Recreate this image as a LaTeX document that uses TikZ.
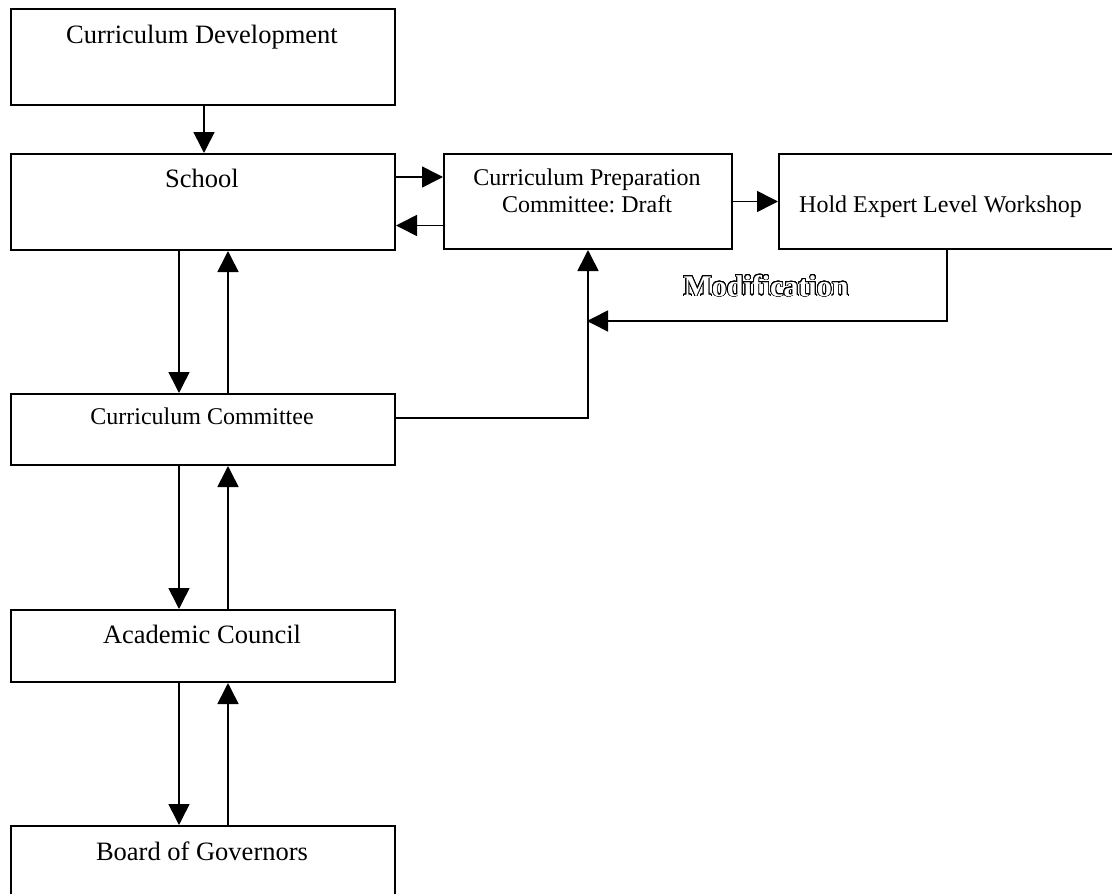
\documentclass[tikz,border=0pt]{standalone}
\usepackage{fontspec}
\setmainfont{Liberation Serif}
\usepackage{contour}
\contourlength{0.8pt}
\contournumber{32}
\usetikzlibrary{arrows.meta}
\frenchspacing
\tikzset{
  box/.style={draw, line width=2pt, rectangle, inner sep=0pt, anchor=north west},
  bigtxt/.style={font=\fontsize{26.5}{32}\selectfont, inner sep=0pt, anchor=base},
  smalltxt/.style={font=\fontsize{24}{29}\selectfont, inner sep=0pt, anchor=base},
  arr/.style={line width=1.6pt, -{Triangle[length=21pt,width=21pt]}},
}
\begin{document}
\begin{tikzpicture}[x=1pt, y=-1pt]
\useasboundingbox (0,0) rectangle (1112,894);
\clip (0,0) rectangle (1112,894);
% boxes
\node[box, minimum width=384pt, minimum height=96pt] (cd) at (10,8) {};
\node[box, minimum width=384pt, minimum height=96pt] (school) at (10,153) {};
\node[box, minimum width=288pt, minimum height=95pt] (cpc) at (443,153) {};
\node[box, minimum width=342pt, minimum height=95pt] (hew) at (778,153) {};
\node[box, minimum width=384pt, minimum height=71pt] (cc) at (10,393) {};
\node[box, minimum width=384pt, minimum height=72pt] (ac) at (10,609) {};
\node[box, minimum width=384pt, minimum height=120pt] (bog) at (10,825) {};
% texts
\node[bigtxt] (cdt) at (202,43) {Curriculum Development};
\node[bigtxt] (schoolt) at (202,187) {School};
\node[smalltxt] (cpct1) at (587,185) {Curriculum Preparation};
\node[smalltxt] (cpct2) at (587,212) {Committee: Draft};
\node[smalltxt, anchor=base west] (hewt) at (799,212) {Hold Expert Level Workshop};
\node[smalltxt] (cct) at (202,424) {Curriculum Committee};
\node[bigtxt] (act) at (202,643) {Academic Council};
\node[bigtxt] (bogt) at (202,860) {Board of Governors};
\node[inner sep=0pt, anchor=base, font=\fontsize{30}{36}\selectfont\bfseries] (mod) at (766,296)
  {\contour{black}{\textcolor{white}{Modification}}};
% connectors
\draw[arr] ([xshift=1pt]cd.south) -- ([xshift=1pt]school.north);
\draw[arr] ([yshift=25pt]school.east) -- ([yshift=25pt]school.east -| cpc.west);
\draw[arr] ([yshift=-24pt]cpc.west) -- ([yshift=-24pt]cpc.west -| school.east);
\draw[arr] (cpc.east) -- (cpc.east -| hew.west);
\draw[arr] ([xshift=-24pt]school.south) -- ([xshift=-24pt]cc.north);
\draw[arr] ([xshift=25pt]cc.north) -- ([xshift=25pt]school.south);
\draw[arr] ([xshift=-24pt]cc.south) -- ([xshift=-24pt]ac.north);
\draw[arr] ([xshift=25pt]ac.north) -- ([xshift=25pt]cc.south);
\draw[arr] ([xshift=-24pt]ac.south) -- ([xshift=-24pt]bog.north);
\draw[arr] ([xshift=25pt]bog.north) -- ([xshift=25pt]ac.south);
\draw[arr] ([yshift=11.5pt]cc.east) -| (cpc.south);
\coordinate (mj) at (587,321);
\draw[arr] ([xshift=-3pt]hew.south) |- (mj);
\end{tikzpicture}
\end{document}
